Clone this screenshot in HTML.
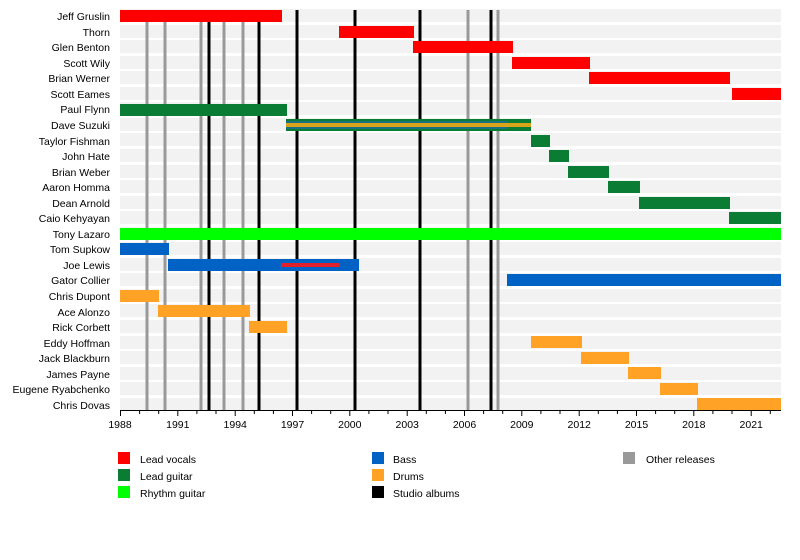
<!DOCTYPE html>
<html><head><meta charset="utf-8"><style>
html,body{margin:0;padding:0;background:#fff;}
svg{display:block;font-family:"Liberation Sans",Arial,sans-serif;}
</style></head><body>
<svg width="800" height="560" viewBox="0 0 800 560" xmlns="http://www.w3.org/2000/svg">
<g fill="#f2f2f2">
<rect x="120" y="9" width="661" height="13"/><rect x="120" y="25" width="661" height="13"/><rect x="120" y="40" width="661" height="13"/><rect x="120" y="56" width="661" height="13"/><rect x="120" y="71" width="661" height="13"/><rect x="120" y="87" width="661" height="13"/><rect x="120" y="102" width="661" height="13"/><rect x="120" y="118" width="661" height="13"/><rect x="120" y="133" width="661" height="13"/><rect x="120" y="149" width="661" height="13"/><rect x="120" y="165" width="661" height="13"/><rect x="120" y="180" width="661" height="13"/><rect x="120" y="196" width="661" height="13"/><rect x="120" y="211" width="661" height="13"/><rect x="120" y="227" width="661" height="13"/><rect x="120" y="242" width="661" height="13"/><rect x="120" y="258" width="661" height="13"/><rect x="120" y="273" width="661" height="13"/><rect x="120" y="289" width="661" height="13"/><rect x="120" y="304" width="661" height="13"/><rect x="120" y="320" width="661" height="13"/><rect x="120" y="336" width="661" height="13"/><rect x="120" y="351" width="661" height="13"/><rect x="120" y="367" width="661" height="13"/><rect x="120" y="382" width="661" height="13"/><rect x="120" y="398" width="661" height="12"/>
</g>
<g stroke="#999" stroke-width="3">
<line x1="147" y1="11" x2="147" y2="410"/><line x1="165" y1="11" x2="165" y2="410"/><line x1="201" y1="11" x2="201" y2="410"/><line x1="224" y1="11" x2="224" y2="410"/><line x1="243" y1="11" x2="243" y2="410"/><line x1="468" y1="10" x2="468" y2="410"/><line x1="498" y1="10" x2="498" y2="410"/>
</g>
<g stroke="#000" stroke-width="3">
<line x1="209" y1="11" x2="209" y2="410"/><line x1="259" y1="11" x2="259" y2="410"/><line x1="297" y1="10" x2="297" y2="410"/><line x1="355" y1="10" x2="355" y2="410"/><line x1="420" y1="10" x2="420" y2="410"/><line x1="491" y1="10" x2="491" y2="410"/>
</g>
<g fill="#ff0000">
<rect x="120" y="10" width="162" height="12"/><rect x="339" y="26" width="75" height="12"/><rect x="413" y="41" width="100" height="12"/><rect x="512" y="57" width="78" height="12"/><rect x="589" y="72" width="141" height="12"/><rect x="732" y="88" width="49" height="12"/>
</g>
<g fill="#0a7c33">
<rect x="120" y="104" width="167" height="12"/><rect x="286" y="119" width="245" height="12"/><rect x="531" y="135" width="19" height="12"/><rect x="549" y="150" width="20" height="12"/><rect x="568" y="166" width="41" height="12"/><rect x="608" y="181" width="32" height="12"/><rect x="639" y="197" width="91" height="12"/><rect x="729" y="212" width="52" height="12"/>
</g>
<rect x="286" y="121" width="222" height="8" fill="#1a6f80"/>
<rect x="286" y="123" width="245" height="4" fill="#d9a41c"/>
<rect x="120" y="228" width="661" height="12" fill="#00ff00"/>
<g fill="#0062c4">
<rect x="120" y="243" width="49" height="12"/><rect x="168" y="259" width="191" height="12"/><rect x="507" y="274" width="274" height="12"/>
</g>
<rect x="281" y="263" width="59" height="4" fill="#e0202a"/>
<g fill="#ffa225">
<rect x="120" y="290" width="39" height="12"/><rect x="158" y="305" width="92" height="12"/><rect x="249" y="321" width="38" height="12"/><rect x="531" y="336" width="51" height="12"/><rect x="581" y="352" width="48" height="12"/><rect x="628" y="367" width="33" height="12"/><rect x="660" y="383" width="38" height="12"/><rect x="697" y="398" width="84" height="12"/>
</g>
<g font-size="10.5" fill="#000" text-anchor="end">
<text x="110" y="20">Jeff Gruslin</text><text x="110" y="36">Thorn</text><text x="110" y="51">Glen Benton</text><text x="110" y="67">Scott Wily</text><text x="110" y="82">Brian Werner</text><text x="110" y="98">Scott Eames</text><text x="110" y="113">Paul Flynn</text><text x="110" y="129">Dave Suzuki</text><text x="110" y="145">Taylor Fishman</text><text x="110" y="160">John Hate</text><text x="110" y="176">Brian Weber</text><text x="110" y="191">Aaron Homma</text><text x="110" y="207">Dean Arnold</text><text x="110" y="222">Caio Kehyayan</text><text x="110" y="238">Tony Lazaro</text><text x="110" y="253">Tom Supkow</text><text x="110" y="269">Joe Lewis</text><text x="110" y="284">Gator Collier</text><text x="110" y="300">Chris Dupont</text><text x="110" y="316">Ace Alonzo</text><text x="110" y="331">Rick Corbett</text><text x="110" y="347">Eddy Hoffman</text><text x="110" y="362">Jack Blackburn</text><text x="110" y="378">James Payne</text><text x="110" y="393">Eugene Ryabchenko</text><text x="110" y="409">Chris Dovas</text>
</g>
<line x1="120" y1="410.5" x2="781" y2="410.5" stroke="#000" stroke-width="1"/>
<g stroke="#000" stroke-width="1">
<line x1="120.5" y1="410" x2="120.5" y2="416"/><line x1="139.6" y1="410" x2="139.6" y2="414"/><line x1="158.7" y1="410" x2="158.7" y2="414"/><line x1="177.8" y1="410" x2="177.8" y2="416"/><line x1="196.9" y1="410" x2="196.9" y2="414"/><line x1="216" y1="410" x2="216" y2="414"/><line x1="235.2" y1="410" x2="235.2" y2="416"/><line x1="254.3" y1="410" x2="254.3" y2="414"/><line x1="273.4" y1="410" x2="273.4" y2="414"/><line x1="292.5" y1="410" x2="292.5" y2="416"/><line x1="311.6" y1="410" x2="311.6" y2="414"/><line x1="330.7" y1="410" x2="330.7" y2="414"/><line x1="349.8" y1="410" x2="349.8" y2="416"/><line x1="368.9" y1="410" x2="368.9" y2="414"/><line x1="388" y1="410" x2="388" y2="414"/><line x1="407.2" y1="410" x2="407.2" y2="416"/><line x1="426.3" y1="410" x2="426.3" y2="414"/><line x1="445.4" y1="410" x2="445.4" y2="414"/><line x1="464.5" y1="410" x2="464.5" y2="416"/><line x1="483.6" y1="410" x2="483.6" y2="414"/><line x1="502.7" y1="410" x2="502.7" y2="414"/><line x1="521.8" y1="410" x2="521.8" y2="416"/><line x1="540.9" y1="410" x2="540.9" y2="414"/><line x1="560" y1="410" x2="560" y2="414"/><line x1="579.2" y1="410" x2="579.2" y2="416"/><line x1="598.3" y1="410" x2="598.3" y2="414"/><line x1="617.4" y1="410" x2="617.4" y2="414"/><line x1="636.5" y1="410" x2="636.5" y2="416"/><line x1="655.6" y1="410" x2="655.6" y2="414"/><line x1="674.7" y1="410" x2="674.7" y2="414"/><line x1="693.8" y1="410" x2="693.8" y2="416"/><line x1="712.9" y1="410" x2="712.9" y2="414"/><line x1="732" y1="410" x2="732" y2="414"/><line x1="751.2" y1="410" x2="751.2" y2="416"/><line x1="770.3" y1="410" x2="770.3" y2="414"/>
</g>
<g font-size="10.5" fill="#000" text-anchor="middle">
<text x="120" y="428">1988</text><text x="177.8" y="428">1991</text><text x="235.2" y="428">1994</text><text x="292.5" y="428">1997</text><text x="349.8" y="428">2000</text><text x="407.2" y="428">2003</text><text x="464.5" y="428">2006</text><text x="521.8" y="428">2009</text><text x="579.2" y="428">2012</text><text x="636.5" y="428">2015</text><text x="693.8" y="428">2018</text><text x="751.2" y="428">2021</text>
</g>
<rect x="118" y="452" width="12" height="12" fill="#ff0000"/>
<rect x="118" y="469" width="12" height="12" fill="#0a7c33"/>
<rect x="118" y="486" width="12" height="12" fill="#00ff00"/>
<rect x="372" y="452" width="12" height="12" fill="#0062c4"/>
<rect x="372" y="469" width="12" height="12" fill="#ffa225"/>
<rect x="372" y="486" width="12" height="12" fill="#000"/>
<rect x="623" y="452" width="12" height="12" fill="#999"/>
<g font-size="10.5" fill="#000">
<text x="140" y="463">Lead vocals</text><text x="140" y="480">Lead guitar</text><text x="140" y="497">Rhythm guitar</text>
<text x="393" y="463">Bass</text><text x="393" y="480">Drums</text><text x="393" y="497">Studio albums</text>
<text x="646" y="463">Other releases</text>
</g>
</svg>
</body></html>
